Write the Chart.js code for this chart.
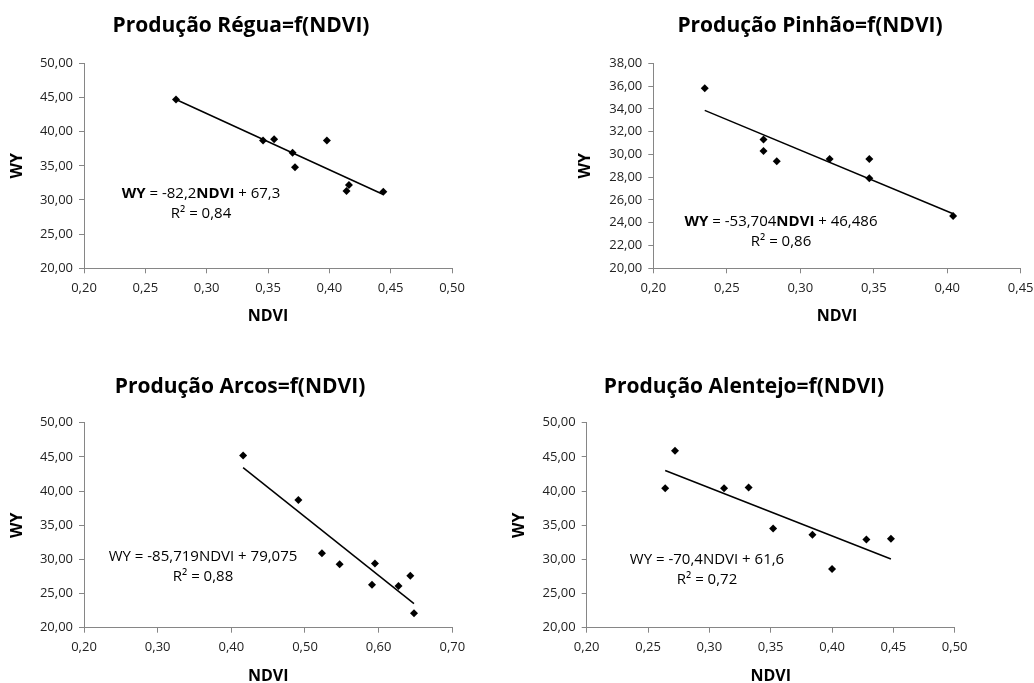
<!DOCTYPE html>
<html>
<head>
<meta charset="utf-8">
<script src="https://cdn.jsdelivr.net/npm/chart.js@4.4.0/dist/chart.umd.min.js"></script>
<style>
  html, body { margin: 0; padding: 0; overflow: hidden; background: #fff; }
  canvas { position: absolute; left: 0; top: 0; }
</style>
</head>
<body>
<canvas id="chartRegua" width="1034" height="683"></canvas>
<canvas id="chartPinhao" width="1034" height="683"></canvas>
<canvas id="chartArcos" width="1034" height="683"></canvas>
<canvas id="chartAlentejo" width="1034" height="683"></canvas>
<script>
// data
const titles = ['Produção Régua=f(NDVI)', 'Produção Pinhão=f(NDVI)', 'Produção Arcos=f(NDVI)', 'Produção Alentejo=f(NDVI)'];

const reguaNdvi = [0.275, 0.346, 0.355, 0.370, 0.372, 0.398, 0.414, 0.416, 0.444];
const reguaWy = [44.7, 38.7, 38.9, 36.9, 34.8, 38.7, 31.3, 32.2, 31.2];

const pinhaoNdvi = [0.235, 0.275, 0.275, 0.284, 0.320, 0.347, 0.347, 0.404];
const pinhaoWy = [35.8, 31.3, 30.3, 29.4, 29.6, 29.6, 27.9, 24.6];

const arcosNdvi = [0.416, 0.491, 0.523, 0.547, 0.591, 0.595, 0.627, 0.643, 0.648];
const arcosWy = [45.2, 38.7, 30.9, 29.3, 26.3, 29.4, 26.1, 27.6, 22.1];

const alentejoNdvi = [0.264, 0.272, 0.312, 0.332, 0.352, 0.384, 0.400, 0.428, 0.448];
const alentejoWy = [40.4, 45.9, 40.4, 40.5, 34.5, 33.6, 28.6, 32.9, 33.0];

// trend lines as printed on the charts
const trendSlope = [-82.2, -53.704, -85.719, -70.4];
const trendIntercept = [67.3, 46.486, 79.075, 61.6];
const rSquared = [0.84, 0.86, 0.88, 0.72];

// axis ranges
const xMin = [0.20, 0.20, 0.20, 0.20];
const xMax = [0.50, 0.45, 0.70, 0.50];
const xStep = [0.05, 0.05, 0.10, 0.05];
const yMin = [20, 20, 20, 20];
const yMax = [50, 38, 50, 50];
const yStep = [5, 2, 5, 5];

// page layout of each panel (plot area in page pixels)
const panels = [
  { id: 'chartRegua', left: 84, right: 452, top: 63.3, bottom: 268.3, wyX: 17, ndviY: 316.7,
    titleX: 241, titleY: 31.7, eqX: 201, eqY: 198, boldEq: true },
  { id: 'chartPinhao', left: 653.3, right: 1020.7, top: 63.3, bottom: 268.3, wyX: 585, ndviY: 316.7,
    titleX: 810, titleY: 31.7, eqX: 781, eqY: 226, boldEq: true },
  { id: 'chartArcos', left: 84, right: 452.3, top: 422.7, bottom: 627.7, wyX: 17, ndviY: 676,
    titleX: 240, titleY: 393.3, eqX: 203, eqY: 561, boldEq: false },
  { id: 'chartAlentejo', left: 586.7, right: 954.7, top: 422.7, bottom: 627.7, wyX: 519, ndviY: 676,
    titleX: 744, titleY: 393.3, eqX: 707, eqY: 564, boldEq: false }
];

const seriesX = [reguaNdvi, pinhaoNdvi, arcosNdvi, alentejoNdvi];
const seriesY = [reguaWy, pinhaoWy, arcosWy, alentejoWy];

const FONT = '"Open Sans", "Liberation Sans", sans-serif';
const W = 1034, H = 683;
const axisGray = '#868686';

Chart.defaults.font.family = FONT;

function comma(v) { return String(v).replace('.', ','); }

function drawRuns(ctx, runs, cx, y, size) {
  let w = 0;
  runs.forEach(r => {
    ctx.font = (r[1] ? 'bold ' : '') + size + 'px ' + FONT;
    w += ctx.measureText(r[0]).width;
  });
  let x = cx - w / 2;
  runs.forEach(r => {
    ctx.font = (r[1] ? 'bold ' : '') + size + 'px ' + FONT;
    ctx.fillText(r[0], x, y);
    x += ctx.measureText(r[0]).width;
  });
}

// title + equation text
const panelText = {
  id: 'panelText',
  afterDraw(chart, args, o) {
    const ctx = chart.ctx;
    ctx.save();
    ctx.fillStyle = '#000';
    ctx.textAlign = 'left';
    ctx.textBaseline = 'alphabetic';
    drawRuns(ctx, [[o.title, true]], o.titleX, o.titleY, 21);
    o.eq.forEach((row, i) => drawRuns(ctx, row, o.eqX, o.eqY + i * 20, 15));
    ctx.restore();
  }
};

panels.forEach((p, i) => {
  const pts = seriesX[i].map((x, k) => ({ x: x, y: seriesY[i][k] }));
  const x0 = Math.min(...seriesX[i]), x1 = Math.max(...seriesX[i]);
  const trend = [x0, x1].map(x => ({ x: x, y: trendSlope[i] * x + trendIntercept[i] }));

  const s = comma(trendSlope[i]), b = comma(trendIntercept[i]);
  const eqRow = [['WY', p.boldEq], [' = ' + s, false], ['NDVI', p.boldEq], [' + ' + b, false]];
  const r2Row = [['R² = ' + comma(rSquared[i]), false]];

  const xH = Math.min(60, H - p.bottom);

  new Chart(document.getElementById(p.id), {
    type: 'scatter',
    data: {
      datasets: [
        {
          data: pts,
          pointStyle: 'rectRot',
          pointRadius: 4,
          backgroundColor: '#000',
          borderColor: '#000',
          borderWidth: 0
        },
        {
          type: 'line',
          data: trend,
          borderColor: '#000',
          borderWidth: 1.5,
          pointRadius: 0,
          fill: false
        }
      ]
    },
    options: {
      responsive: false,
      animation: false,
      events: [],
      layout: {
        padding: { left: 0, top: p.top, right: W - p.right, bottom: H - p.bottom - xH }
      },
      plugins: {
        legend: { display: false },
        tooltip: { enabled: false },
        panelText: { title: titles[i], titleX: p.titleX, titleY: p.titleY, eqX: p.eqX, eqY: p.eqY, eq: [eqRow, r2Row] }
      },
      scales: {
        x: {
          type: 'linear',
          min: xMin[i],
          max: xMax[i],
          ticks: {
            stepSize: xStep[i],
            color: '#222',
            font: { size: 13 },
            padding: 7,
            maxRotation: 0,
            callback: v => v.toFixed(2).replace('.', ',')
          },
          grid: { drawOnChartArea: false, drawTicks: true, tickLength: 5, color: axisGray },
          border: { color: axisGray, width: 1 },
          title: {
            display: true, text: 'NDVI', color: '#000',
            font: { size: 16, weight: 'bold' },
            padding: { top: 0, bottom: p.bottom + xH - p.ndviY - 9.6 }
          },
          afterFit: sc => { sc.height = xH; sc.paddingLeft = 0; sc.paddingRight = 0; }
        },
        y: {
          type: 'linear',
          min: yMin[i],
          max: yMax[i],
          ticks: {
            stepSize: yStep[i],
            color: '#222',
            font: { size: 13 },
            padding: 6,
            callback: v => v.toFixed(2).replace('.', ',')
          },
          grid: { drawOnChartArea: false, drawTicks: true, tickLength: 5, color: axisGray },
          border: { color: axisGray, width: 1 },
          title: {
            display: true, text: 'WY', color: '#000',
            font: { size: 16, weight: 'bold' },
            padding: { top: p.wyX - 9.6, bottom: 0 }
          },
          afterFit: sc => { sc.width = p.left; sc.paddingTop = 0; sc.paddingBottom = 0; }
        }
      }
    },
    plugins: [panelText]
  });
});
</script>
</body>
</html>
